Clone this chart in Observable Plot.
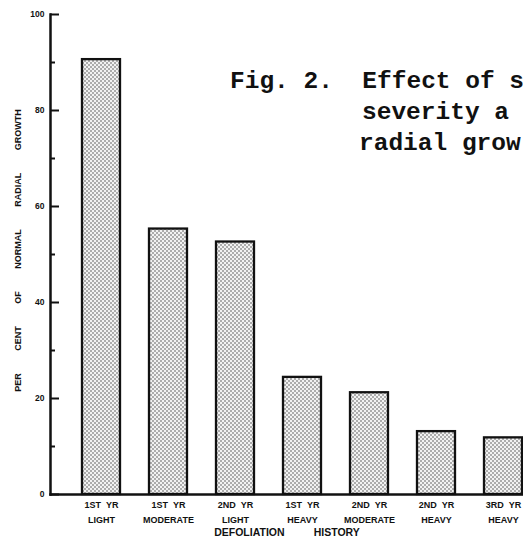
<!DOCTYPE html>
<html>
<head>
<meta charset="utf-8">
<script src="https://cdn.jsdelivr.net/npm/d3@7"></script>
<script src="https://cdn.jsdelivr.net/npm/@observablehq/plot@0.6"></script>
<style>
  html, body { margin: 0; padding: 0; background: #fff; }
  #wrap { position: relative; width: 523px; height: 546px; overflow: hidden; background: #fff; }
  #wrap svg { overflow: hidden; }
  .title-line {
    position: absolute; white-space: pre; font-family: "Liberation Mono", "DejaVu Sans Mono", monospace;
    font-weight: bold; font-size: 24.5px; line-height: 25px; color: #111;
  }
</style>
</head>
<body>
<div id="wrap"></div>
<script>
// ---- data ----
const years = ["1ST YR", "1ST YR", "2ND YR", "1ST YR", "2ND YR", "2ND YR", "3RD YR"];
const severities = ["LIGHT", "MODERATE", "LIGHT", "HEAVY", "MODERATE", "HEAVY", "HEAVY"];
const growth = [90.6, 55.3, 52.6, 24.4, 21.2, 13.1, 11.8];
const majorTicks = [0, 20, 40, 60, 80, 100];
const minorTicks = [10, 30, 50, 70, 90];
const yTitle = "PER CENT OF NORMAL RADIAL GROWTH";
const xTitle = "DEFOLIATION HISTORY";
const titleLines = ["Fig. 2.  Effect of s", "severity a", "radial grow"];

const W = 523, ML = 50, MR = 0;
const spaced = (s, n) => s.split(" ").join("\u00a0".repeat(n));
const categories = years.map((y, i) => y + "\n" + severities[i]);
const table = categories.map((c, i) => ({cat: c, value: growth[i]}));

const defs = () => {
  const ns = "http://www.w3.org/2000/svg";
  const d = document.createElementNS(ns, "defs");
  const p = document.createElementNS(ns, "pattern");
  p.setAttribute("id", "stipple");
  p.setAttribute("patternUnits", "userSpaceOnUse");
  p.setAttribute("width", "4");
  p.setAttribute("height", "4");
  const bg = document.createElementNS(ns, "rect");
  bg.setAttribute("width", "4"); bg.setAttribute("height", "4"); bg.setAttribute("fill", "#f2f2f2");
  p.appendChild(bg);
  for (const [cx, cy] of [[1, 1], [3, 3]]) {
    const c = document.createElementNS(ns, "circle");
    c.setAttribute("cx", cx); c.setAttribute("cy", cy); c.setAttribute("r", "0.75"); c.setAttribute("fill", "#444");
    p.appendChild(c);
  }
  d.appendChild(p);
  return d;
};

const chart = Plot.plot({
  width: W,
  height: 546,
  marginTop: 14,
  marginBottom: 52,
  marginLeft: ML,
  marginRight: MR,
  style: {background: "#fff", color: "#111", fontFamily: "'Liberation Sans', Arial, sans-serif"},
  x: {type: "band", domain: categories, range: [79, 525], paddingInner: 0.44, paddingOuter: 0, axis: null},
  y: {domain: [0, 100], axis: null},
  marks: [
    defs,
    Plot.barY(table, {x: "cat", y: "value", fill: "url(#stipple)", stroke: "#111", strokeWidth: 2.3}),
    Plot.tickY(majorTicks, {y: d => d, stroke: "#111", strokeWidth: 2, insetRight: W - ML - MR - 9}),
    Plot.tickY(minorTicks, {y: d => d, stroke: "#111", strokeWidth: 2, insetRight: W - ML - MR - 5}),
    Plot.frame({anchor: "left", stroke: "#111", strokeWidth: 2.5}),
    Plot.frame({anchor: "bottom", stroke: "#111", strokeWidth: 2.5}),
    Plot.axisY(majorTicks, {anchor: "left", tickSize: 0, tickPadding: 6, fontSize: 8.5, fontWeight: "bold", label: null}),
    Plot.axisX({anchor: "bottom", tickSize: 0, tickPadding: 3, fontSize: 9, fontWeight: "bold", lineHeight: 1.68, label: null,
      tickFormat: d => d.split("\n").map(s => spaced(s, 2)).join("\n")}),
    Plot.text([xTitle], {text: d => spaced(d, 10), frameAnchor: "bottom", dy: 41, fontSize: 10.5, fontWeight: "bold"}),
    Plot.text([yTitle], {text: d => spaced(d, 9), frameAnchor: "left", textAnchor: "middle", rotate: -90, dx: -32, dy: -4, fontSize: 9, fontWeight: "bold"})
  ]
});

const wrap = document.getElementById("wrap");
wrap.appendChild(chart);
const pos = [[230, 69], [362, 100], [359, 131]];
titleLines.forEach((t, i) => {
  const div = document.createElement("div");
  div.className = "title-line";
  div.style.left = pos[i][0] + "px";
  div.style.top = pos[i][1] + "px";
  div.textContent = t;
  wrap.appendChild(div);
});
</script>
</body>
</html>
